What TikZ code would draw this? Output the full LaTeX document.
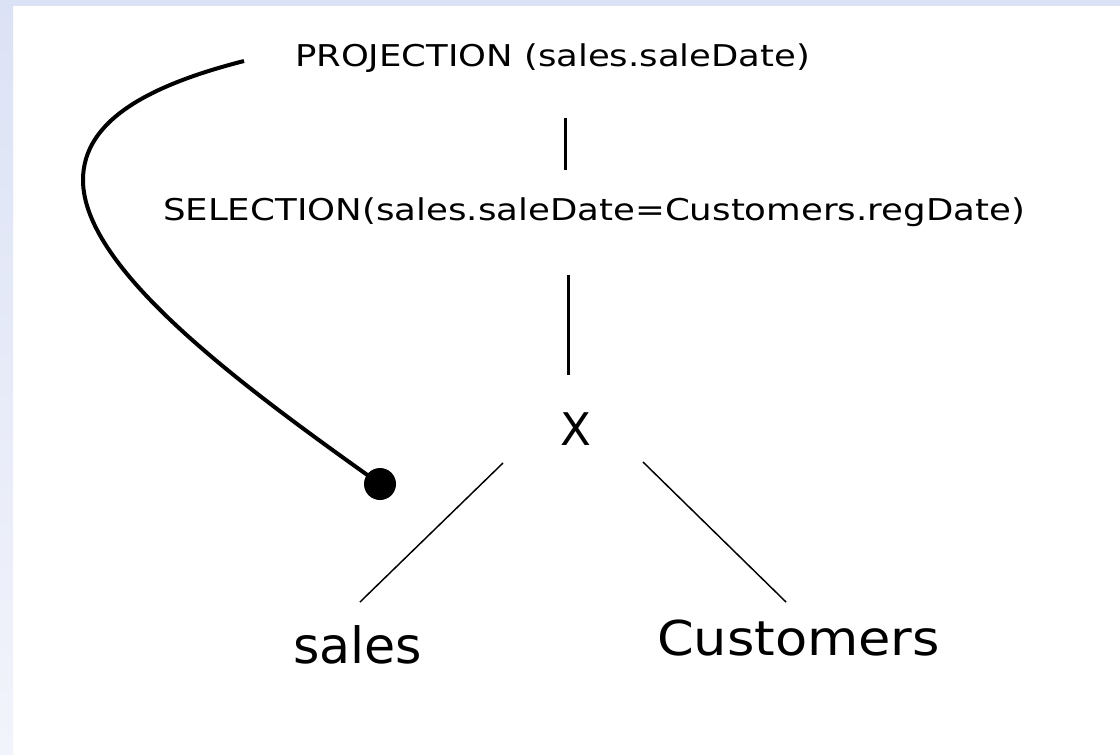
\documentclass[tikz,border=0pt]{standalone}
\usepackage{fontspec}
\setmainfont{DejaVu Sans}
\usepackage{graphicx}
\definecolor{bgblue}{RGB}{220,226,245}
\definecolor{bgpale}{RGB}{242,244,251}
\tikzset{
  lbl/.style={inner sep=0pt, outer sep=0pt, anchor=base west, text=black},
  vline/.style={line width=2.25pt, black},
  dline/.style={line width=1.1pt, black},
  curveline/.style={line width=3pt, black},
  dotnode/.style={circle, fill=black, inner sep=0pt, minimum size=24pt}
}
\begin{document}
\begin{tikzpicture}[x=0.75pt,y=-0.75pt]
\useasboundingbox (0,0) rectangle (1120,754);
% background
\fill[white] (0,0) rectangle (1120,754);
\shade[top color=bgblue, bottom color=bgpale] (0,0) rectangle (13,754);
\fill[bgblue] (0,0) rectangle (1120,6);
% texts
\node[lbl] (proj) at (295,66) {\resizebox{386.25pt}{\height}{\fontsize{22.5pt}{27pt}\selectfont PROJECTION (sales.saleDate)}};
\node[lbl] (sel) at (163,220) {\resizebox{646.5pt}{\height}{\fontsize{22.5pt}{27pt}\selectfont SELECTION(sales.saleDate=Customers.regDate)}};
\node[lbl] (x) at (560,445) {\fontsize{33.75pt}{40pt}\selectfont X};
\node[lbl] (sales) at (293,663) {\resizebox{96.75pt}{\height}{\fontsize{37.5pt}{45pt}\selectfont sales}};
\node[lbl] (cust) at (657,655) {\resizebox{212.25pt}{\height}{\fontsize{36pt}{43pt}\selectfont Customers}};
\node[dotnode] (dot) at (380,484) {};
% connector end points
\coordinate (v1a) at (565,118); \coordinate (v1b) at (565,170);
\coordinate (v2a) at (568,275); \coordinate (v2b) at (568,375);
\coordinate (la) at (503,463);  \coordinate (lb) at (360,602);
\coordinate (ra) at (643,462);  \coordinate (rb) at (786,602);
\coordinate (cs) at (244,61);   \coordinate (cm) at (83,180);
% connectors
\draw[vline] (v1a) -- (v1b);
\draw[vline] (v2a) -- (v2b);
\draw[dline] (la) -- (lb);
\draw[dline] (ra) -- (rb);
\draw[curveline] (cs) .. controls (150,85) and (83,120) .. (cm)
  .. controls (83,270) and (245,388) .. (dot.center);
\end{tikzpicture}
\end{document}
